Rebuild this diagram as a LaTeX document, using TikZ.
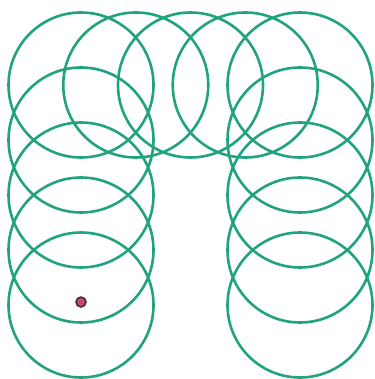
\documentclass[tikz,border=0pt]{standalone}
\definecolor{ringgreen}{RGB}{34,163,128}
\definecolor{dotpink}{RGB}{200,70,115}
\tikzset{ring/.style={draw=ringgreen, line width=2.6pt, circle, minimum size=145pt, inner sep=0pt}}
\begin{document}
\begin{tikzpicture}[x=1pt,y=-1pt]
\useasboundingbox (0,0) rectangle (374,379);
% right column (bottom to top)
\foreach \j [count=\k] in {4,3,2,1} {
  \node[ring] (r\k) at (300,{85+55*\j}) {};
}
% top row (right to left)
\foreach \i [count=\k] in {4,3,2,1,0} {
  \node[ring] (t\k) at ({81+54.75*\i},85) {};
}
% left column (top to bottom)
\foreach \j [count=\k] in {1,2,3,4} {
  \node[ring] (l\k) at (81,{85+55*\j}) {};
}
\node[circle, fill=dotpink, draw=black!80, line width=1.5pt, minimum size=10pt, inner sep=0pt] (dot) at (81,302) {};
\end{tikzpicture}
\end{document}
